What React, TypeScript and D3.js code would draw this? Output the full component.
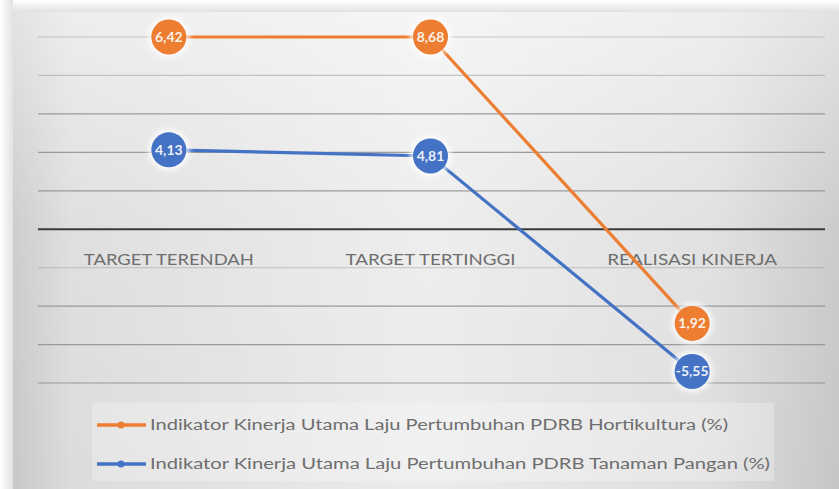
import * as d3 from 'd3'

const W = 839
const H = 489

const CATEGORIES = ['TARGET TERENDAH', 'TARGET TERTINGGI', 'REALISASI KINERJA']
// plotted positions (in axis units, axis max clips at 10)
const HORTI_VALUES = [10, 10, -4.9]
const PANGAN_VALUES = [4.13, 3.81, -7.4]
// data label text as shown on the chart
const HORTI_LABELS = ['6,42', '8,68', '1,92']
const PANGAN_LABELS = ['4,13', '4,81', '-5,55']
const Y_TICKS = [-8, -6, -4, -2, 0, 2, 4, 6, 8, 10]

const SERIES = [
  { name: 'Indikator Kinerja Utama Laju Pertumbuhan PDRB Hortikultura (%)', values: HORTI_VALUES, labels: HORTI_LABELS, color: '#ED7D31' },
  { name: 'Indikator Kinerja Utama Laju Pertumbuhan PDRB Tanaman Pangan (%)', values: PANGAN_VALUES, labels: PANGAN_LABELS, color: '#4472C4' },
]

const PLOT = { left: 38, right: 823, top: 37, bottom: 383 }
const FONT = "Lato, 'Open Sans', sans-serif"
const TEXT = '#6e6e6e'

export default function App() {
  const x = d3.scalePoint<string>().domain(CATEGORIES).range([PLOT.left, PLOT.right]).padding(0.5)
  const y = d3.scaleLinear().domain([-8, 10]).range([PLOT.bottom, PLOT.top])

  const line = d3
    .line<number>()
    .x((_, i) => x(CATEGORIES[i]) as number)
    .y((d) => y(d))

  return (
    <div style={{ position: 'fixed', left: 0, top: 0 }}>
      <svg width={W} height={H} style={{ display: 'block' }}>
        <defs>
          <linearGradient id="bgH" x1="0" x2="1" y1="0" y2="0">
            <stop offset="0" stopColor="#c8c8c8" />
            <stop offset="0.07" stopColor="#dcdcdc" />
            <stop offset="0.5" stopColor="#ececec" />
            <stop offset="0.85" stopColor="#dedede" />
            <stop offset="1" stopColor="#c6c6c6" />
          </linearGradient>
          <linearGradient id="bgV" x1="0" x2="0" y1="0" y2="1">
            <stop offset="0" stopColor="#ffffff" stopOpacity="0.5" />
            <stop offset="0.45" stopColor="#ffffff" stopOpacity="0.1" />
            <stop offset="1" stopColor="#ffffff" stopOpacity="0" />
          </linearGradient>
          <linearGradient id="shadowTop" x1="0" x2="0" y1="0" y2="1">
            <stop offset="0" stopColor="#ffffff" />
            <stop offset="1" stopColor="#e2e2e2" />
          </linearGradient>
          <linearGradient id="shadowLeft" x1="0" x2="1" y1="0" y2="0">
            <stop offset="0" stopColor="#ffffff" />
            <stop offset="1" stopColor="#e2e2e2" />
          </linearGradient>
          <filter id="glow" x="-50%" y="-50%" width="200%" height="200%">
            <feGaussianBlur stdDeviation="2.5" />
          </filter>
        </defs>

        <rect width={W} height={H} fill="#ffffff" />
        <rect x={0} y={0} width={W} height={12} fill="url(#shadowTop)" />
        <rect x={0} y={0} width={13} height={H} fill="url(#shadowLeft)" />
        <rect x={13} y={12} width={W - 13} height={H - 12} fill="url(#bgH)" />
        <rect x={13} y={12} width={W - 13} height={H - 12} fill="url(#bgV)" />

        {/* gridlines */}
        {Y_TICKS.map((t) => (
          <line
            key={t}
            x1={PLOT.left}
            x2={PLOT.right + 2}
            y1={y(t)}
            y2={y(t)}
            stroke={t === 0 ? '#3a3a3a' : '#8e8e8e'}
            strokeOpacity={t === 0 ? 1 : t === -2 ? 0.35 : t >= 8 ? 0.45 : 0.85}
            strokeWidth={t === 0 ? 2 : 1.2}
          />
        ))}

        {/* category labels */}
        {CATEGORIES.map((c) => (
          <text
            key={c}
            x={x(c)}
            y={265}
            textAnchor="middle"
            fontFamily={FONT}
            fontSize={16}
            fill={TEXT}
            textLength={170}
            lengthAdjust="spacingAndGlyphs"
          >
            {c}
          </text>
        ))}

        {/* series lines */}
        {SERIES.map((s) => (
          <path key={s.name} d={line(s.values) ?? ''} fill="none" stroke={s.color} strokeWidth={3.2} />
        ))}

        {/* data label bubbles */}
        {SERIES.map((s) =>
          s.values.map((v, i) => {
            const cx = x(CATEGORIES[i]) as number
            const cy = y(v)
            return (
              <g key={s.name + i}>
                <circle cx={cx} cy={cy} r={21} fill="#ffffff" opacity={0.75} filter="url(#glow)" />
                <circle cx={cx} cy={cy} r={17.5} fill={s.color} />
                <text
                  x={cx}
                  y={cy + 5}
                  textAnchor="middle"
                  fontFamily={FONT}
                  fontWeight={700}
                  fontSize={14}
                  fill="#ffffff"
                  fillOpacity={0.92}
                >
                  {s.labels[i]}
                </text>
              </g>
            )
          })
        )}

        {/* legend */}
        <rect x={92} y={403} width={682} height={78} fill="#ffffff" opacity={0.25} />
        {SERIES.map((s, i) => {
          const ly = 425 + i * 39
          return (
            <g key={s.name}>
              <line x1={97} x2={146} y1={ly} y2={ly} stroke={s.color} strokeWidth={3.5} />
              <circle cx={121} cy={ly} r={3.5} fill={s.color} />
              <text
                x={150}
                y={ly + 5}
                fontFamily={FONT}
                fontSize={14.5}
                fill={TEXT}
                textLength={i === 0 ? 578 : 620}
                lengthAdjust="spacingAndGlyphs"
              >
                {s.name}
              </text>
            </g>
          )
        })}
      </svg>
    </div>
  )
}
